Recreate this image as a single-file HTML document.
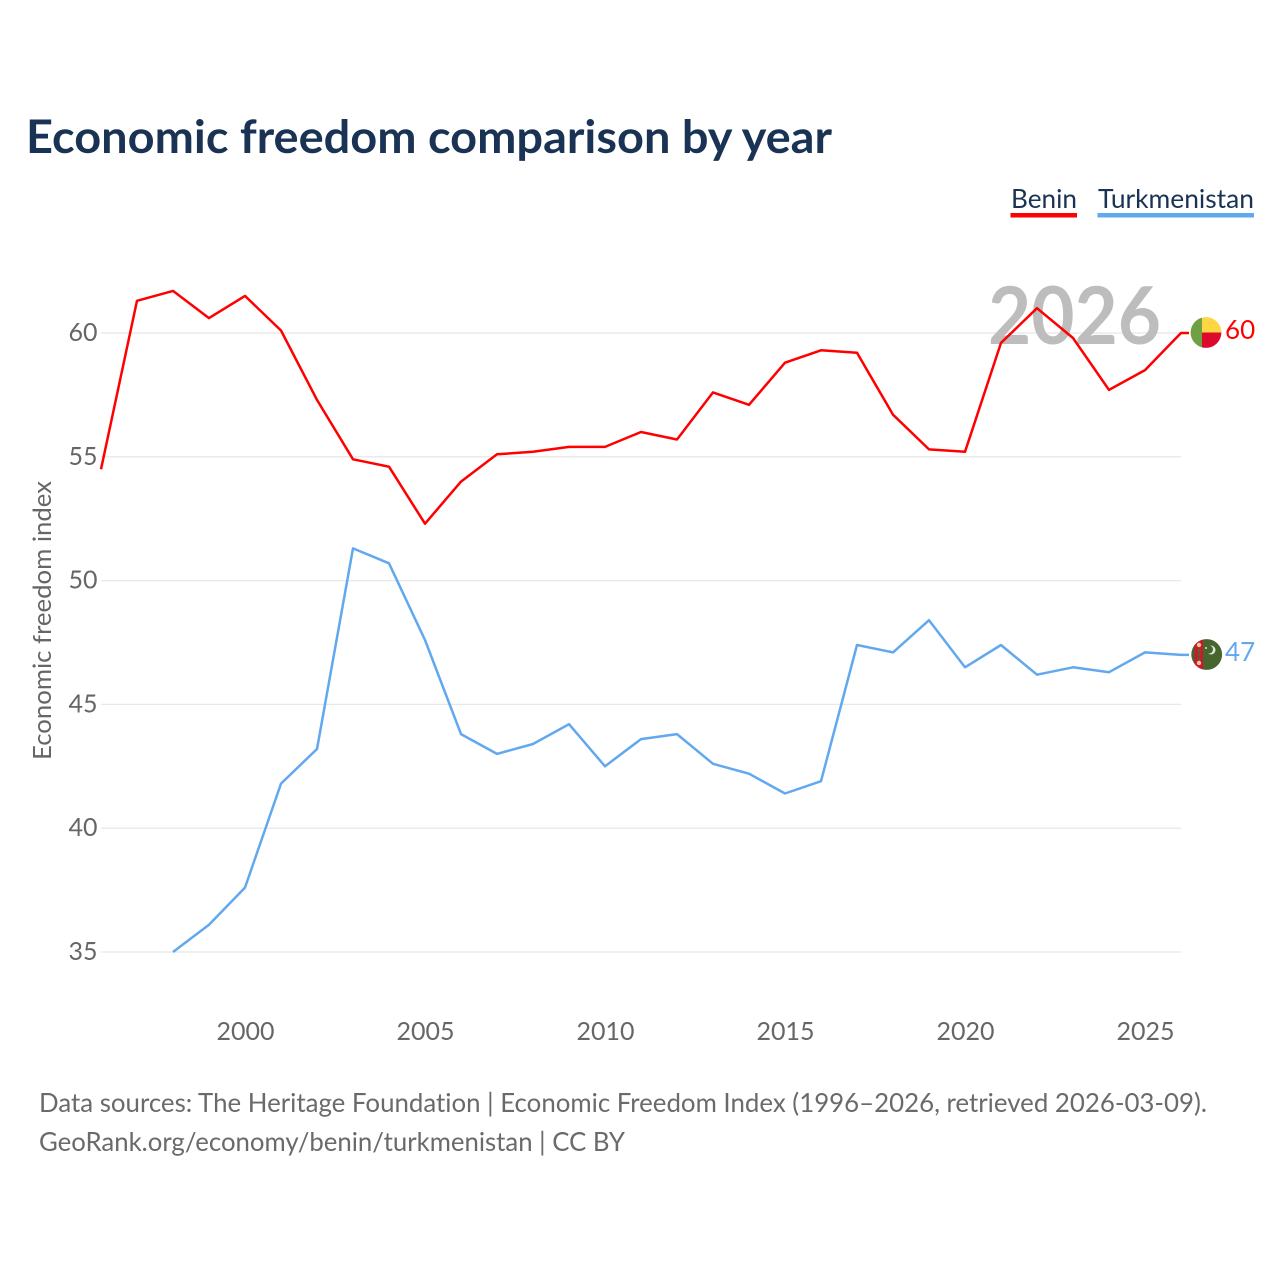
<!DOCTYPE html>
<html lang="en">
<head>
<meta charset="utf-8">
<title>Economic freedom comparison by year</title>
<style>
html,body{margin:0;padding:0;background:#fff}
svg{display:block}
text{font-family:"Lato","Carlito","Liberation Sans",sans-serif;font-variant-ligatures:none}
</style>
</head>
<body>
<svg id="chart" xmlns="http://www.w3.org/2000/svg" width="1280" height="1280" viewBox="0 0 1280 1280">
  <rect width="1280" height="1280" fill="#fff"/>
  <text x="26" y="153" font-size="46" font-weight="700" fill="#1a3354" textLength="806" lengthAdjust="spacingAndGlyphs">Economic freedom comparison by year</text>

  <g>
    <g>
      <text x="1011" y="208" font-size="26.5" fill="#1a3354" textLength="66" lengthAdjust="spacingAndGlyphs">Benin</text>
      <rect x="1010.5" y="213" width="66.5" height="4.5" fill="#ff0000"/>
    </g>
    <g>
      <text x="1098" y="208" font-size="26.5" fill="#1a3354" textLength="156" lengthAdjust="spacingAndGlyphs">Turkmenistan</text>
      <rect x="1097.5" y="213" width="156.5" height="4.5" fill="#62a8ee"/>
    </g>
  </g>

  <g id="grid"></g>
  <text x="988" y="344" font-size="80" font-weight="700" fill="#bdbdbd" textLength="173" lengthAdjust="spacingAndGlyphs">2026</text>
  <g id="yticks"></g>
  <g id="xticks"></g>
  <text transform="translate(51 620.5) rotate(-90)" text-anchor="middle" font-size="25" fill="#666" textLength="279" lengthAdjust="spacingAndGlyphs">Economic freedom index</text>
  <g id="series"></g>

  <defs>
    <clipPath id="clip-benin"><circle cx="1206" cy="332.5" r="15.4"/></clipPath>
    <clipPath id="clip-turkmenistan"><circle cx="1206.7" cy="654.5" r="15.4"/></clipPath>
  </defs>
  <g clip-path="url(#clip-benin)">
    <rect x="1190" y="316" width="12" height="33" fill="#6fa044"/>
    <rect x="1202" y="316" width="21" height="16.5" fill="#fdd644"/>
    <rect x="1202" y="332.5" width="21" height="17" fill="#dc0a2c"/>
  </g>
  <g clip-path="url(#clip-turkmenistan)">
    <rect x="1191" y="638" width="32" height="33" fill="#47662f"/>
    <rect x="1194.5" y="638" width="8.5" height="33" fill="#d0162c"/>
    <circle cx="1199" cy="645" r="2.2" fill="#f3c9a0"/>
    <circle cx="1199" cy="650.5" r="1.7" fill="#6a5a2a"/>
    <circle cx="1199" cy="654.5" r="1.7" fill="#6a5a2a"/>
    <circle cx="1199" cy="658.5" r="1.7" fill="#6a5a2a"/>
    <circle cx="1199" cy="663" r="2.2" fill="#f3c9a0"/>
    <circle cx="1211" cy="650" r="4.5" fill="#dfe6d8"/>
    <circle cx="1209" cy="649.5" r="4" fill="#47662f"/>
    <circle cx="1206" cy="648" r="1" fill="#dfe6d8"/>
  </g>

  <g>
    <text x="39" y="1112" font-size="26.5" fill="#6a6a6a" textLength="1168" lengthAdjust="spacingAndGlyphs">Data sources: The Heritage Foundation | Economic Freedom Index (1996–2026, retrieved 2026-03-09).</text>
    <text x="39" y="1151" font-size="26.5" fill="#6a6a6a" textLength="586" lengthAdjust="spacingAndGlyphs">GeoRank.org/economy/benin/turkmenistan | CC BY</text>
  </g>
</svg>
<script>
const benYears = [1996,1997,1998,1999,2000,2001,2002,2003,2004,2005,2006,2007,2008,2009,2010,2011,2012,2013,2014,2015,2016,2017,2018,2019,2020,2021,2022,2023,2024,2025,2026];
const beninValues = [54.5,61.3,61.7,60.6,61.5,60.1,57.3,54.9,54.6,52.3,54.0,55.1,55.2,55.4,55.4,56.0,55.7,57.6,57.1,58.8,59.3,59.2,56.7,55.3,55.2,59.6,61.0,59.8,57.7,58.5,60.0];
const turYears = [1998,1999,2000,2001,2002,2003,2004,2005,2006,2007,2008,2009,2010,2011,2012,2013,2014,2015,2016,2017,2018,2019,2020,2021,2022,2023,2024,2025,2026];
const turkmenistanValues = [35.0,36.1,37.6,41.8,43.2,51.3,50.7,47.6,43.8,43.0,43.4,44.2,42.5,43.6,43.8,42.6,42.2,41.4,41.9,47.4,47.1,48.4,46.5,47.4,46.2,46.5,46.3,47.1,47.0];
const yTickValues = [35,40,45,50,55,60];
const xTickValues = [2000,2005,2010,2015,2020,2025];

const NS = 'http://www.w3.org/2000/svg';
function xScale(year){ return 101 + (year - 1996) * 36; }
function yScale(value){ return 333 + (60 - value) * 24.76; }

const gridLayer = document.getElementById('grid');
const yTickLayer = document.getElementById('yticks');
const xTickLayer = document.getElementById('xticks');
const seriesLayer = document.getElementById('series');

yTickValues.forEach(function(v){
  const line = document.createElementNS(NS, 'line');
  
  
  line.setAttribute('x1', 101);
  line.setAttribute('x2', 1181);
  line.setAttribute('y1', yScale(v));
  line.setAttribute('y2', yScale(v));
  line.setAttribute('stroke', '#e8e8e8');
  line.setAttribute('stroke-width', '1.3');
  gridLayer.appendChild(line);

  const label = document.createElementNS(NS, 'text');
  
  
  label.setAttribute('x', 97.5);
  label.setAttribute('y', yScale(v) + 8);
  label.setAttribute('text-anchor', 'end');
  label.setAttribute('font-size', '25');
  label.setAttribute('fill', '#666');
  label.textContent = v;
  yTickLayer.appendChild(label);
});

xTickValues.forEach(function(t){
  const label = document.createElementNS(NS, 'text');
  
  
  label.setAttribute('x', xScale(t) + 0.5);
  label.setAttribute('y', 1040);
  label.setAttribute('text-anchor', 'middle');
  label.setAttribute('font-size', '25');
  label.setAttribute('fill', '#666');
  label.textContent = t;
  xTickLayer.appendChild(label);
});

function drawSeries(name, years, values, color){
  const pts = years.map(function(yr, i){ return xScale(yr).toFixed(1) + ',' + yScale(values[i]).toFixed(1); });
  const lastY = yScale(values[values.length - 1]);
  pts.push('1189,' + lastY.toFixed(1));
  const path = document.createElementNS(NS, 'polyline');
  
  
  path.setAttribute('points', pts.join(' '));
  path.setAttribute('fill', 'none');
  path.setAttribute('stroke', color);
  path.setAttribute('stroke-width', '2.5');
  path.setAttribute('stroke-linejoin', 'round');
  seriesLayer.appendChild(path);

  const label = document.createElementNS(NS, 'text');
  
  
  label.setAttribute('x', 1225);
  label.setAttribute('y', lastY + 6);
  label.setAttribute('font-size', '26');
  label.setAttribute('fill', color);
  label.textContent = Math.round(values[values.length - 1]);
  seriesLayer.appendChild(label);
}
drawSeries('benin', benYears, beninValues, '#ff0000');
drawSeries('turkmenistan', turYears, turkmenistanValues, '#62a8ee');
</script>
</body>
</html>
